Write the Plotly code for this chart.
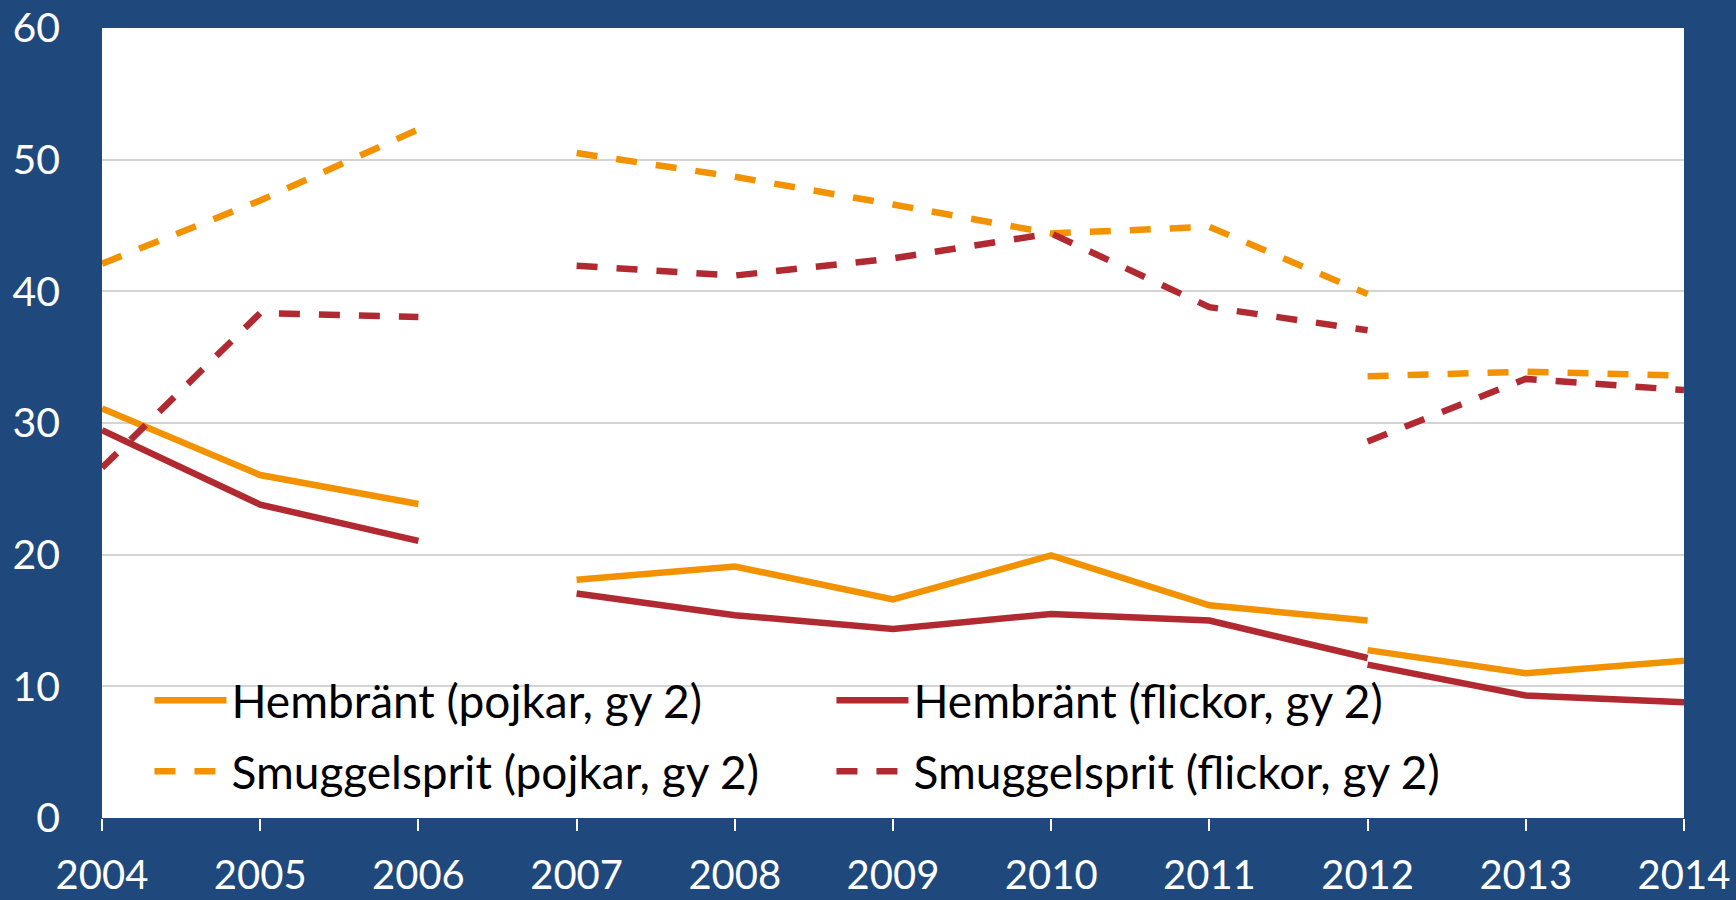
import plotly.graph_objects as go

# ---- data ----
years_a = [2004, 2005, 2006]
years_b = [2007, 2008, 2009, 2010, 2011, 2012]
years_c = [2012, 2013, 2014]

hem_pojkar_a = [31.1, 26.05, 23.85]
hem_pojkar_b = [18.1, 19.1, 16.6, 19.95, 16.15, 15.0]
hem_pojkar_c = [12.75, 11.0, 11.95]

hem_flickor_a = [29.45, 23.8, 21.05]
hem_flickor_b = [17.05, 15.4, 14.35, 15.5, 15.0, 12.15]
hem_flickor_c = [11.65, 9.3, 8.8]

smu_pojkar_a = [42.1, 46.9, 52.3]
smu_pojkar_b = [50.5, 48.7, 46.6, 44.4, 44.9, 39.8]
smu_pojkar_c = [33.55, 33.9, 33.6]

smu_flickor_a = [26.6, 38.35, 38.05]
smu_flickor_b = [41.95, 41.2, 42.5, 44.4, 38.8, 37.05]
smu_flickor_c = [28.6, 33.35, 32.5]

series_names = [
    "Hembränt (pojkar, gy 2)",
    "Hembränt (flickor, gy 2)",
    "Smuggelsprit (pojkar, gy 2)",
    "Smuggelsprit (flickor, gy 2)",
]
x_ticks = list(range(2004, 2015))
y_ticks = [0, 10, 20, 30, 40, 50, 60]

ORANGE = "#F39200"
RED = "#B22A31"
BG = "#1F497D"
FONT = "Lato"


def join(a, b, c):
    xs = years_a + [None] + years_b + [None] + years_c
    ys = a + [None] + b + [None] + c
    return xs, ys


fig = go.Figure()
specs = [
    (series_names[0], (hem_pojkar_a, hem_pojkar_b, hem_pojkar_c), ORANGE, "solid", "legend"),
    (series_names[1], (hem_flickor_a, hem_flickor_b, hem_flickor_c), RED, "solid", "legend"),
    (series_names[2], (smu_pojkar_a, smu_pojkar_b, smu_pojkar_c), ORANGE, "21px,19px", "legend2"),
    (series_names[3], (smu_flickor_a, smu_flickor_b, smu_flickor_c), RED, "21px,19px", "legend2"),
]
for name, (a, b, c), color, dash, leg in specs:
    xs, ys = join(a, b, c)
    fig.add_trace(go.Scatter(
        x=xs, y=ys, mode="lines", name=name, legend=leg,
        connectgaps=False,
        line=dict(color=color, width=6.5, dash=dash),
        hoverinfo="skip",
    ))

legend_common = dict(
    orientation="h",
    font=dict(family=FONT, size=46, color="black"),
    bgcolor="rgba(0,0,0,0)",
    entrywidth=595,
    entrywidthmode="pixels",
    itemwidth=72,
    xanchor="left",
    yanchor="middle",
    x=0.030,
)

fig.update_layout(
    width=1736,
    height=900,
    paper_bgcolor=BG,
    plot_bgcolor="white",
    margin=dict(l=102, r=52, t=28, b=82, autoexpand=False),
    showlegend=True,
    legend=dict(legend_common, y=0.149),
    legend2=dict(legend_common, y=0.059),
    font=dict(family=FONT, color="white"),
)
fig.update_xaxes(
    range=[2004, 2014],
    tickvals=x_ticks,
    ticktext=[str(v) for v in x_ticks],
    ticks="outside",
    ticklen=12,
    tickwidth=2,
    tickcolor="white",
    tickfont=dict(family=FONT, size=40, color="white"),
    ticklabelstandoff=10,
    showgrid=False,
    zeroline=False,
    showline=False,
    automargin=False,
)
fig.update_yaxes(
    range=[0, 60],
    tickvals=y_ticks,
    tickfont=dict(family=FONT, size=41, color="white"),
    ticklabelstandoff=41,
    showgrid=True,
    gridcolor="#D4D4D4",
    gridwidth=1.5,
    zeroline=False,
    showline=False,
    automargin=False,
)

fig.write_html(
    "out.html",
    config={"displayModeBar": False},
    post_script="document.body.style.margin='0';document.body.style.background='#1F497D';",
)
